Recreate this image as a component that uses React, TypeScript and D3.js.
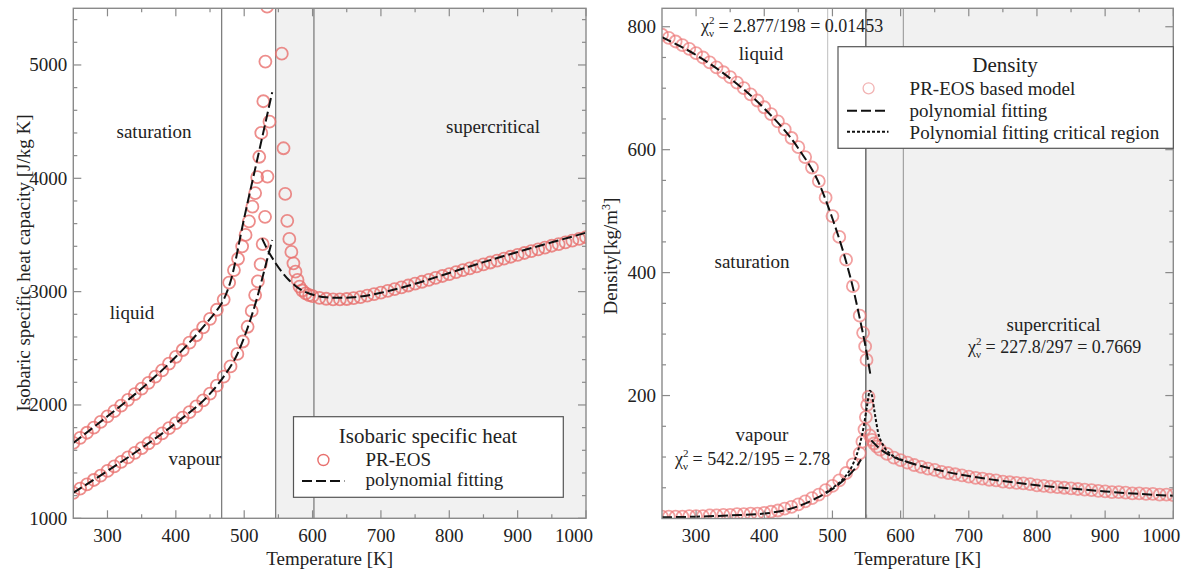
import React from 'react';
import * as d3 from 'd3';

const FONT = "'Liberation Serif', 'Times New Roman', serif";

// ---------- Left panel: isobaric specific heat (J/kg K) ----------
const cpLiquidT = [250,260,270,280,290,300,310,320,330,340,350,360,370,380,390,400,410,420,430,440,450,460,470,478,485,491,497,502,507,512,516,519,522,525,528,531,533.5];
const cpLiquidV = [1665,1710,1755,1800,1850,1900,1945,1995,2045,2095,2145,2195,2250,2305,2365,2425,2485,2550,2615,2685,2760,2840,2930,3080,3190,3290,3400,3500,3620,3750,3870,4010,4190,4400,4680,5030,5515];

const cpVapourT = [250,260,270,280,290,300,310,320,330,340,350,360,370,380,390,400,410,420,430,440,450,460,470,480,490,498,505,511,516,520,524,527,530.5,534,537];
const cpVapourV = [1225,1262,1300,1338,1377,1418,1458,1498,1538,1578,1620,1662,1705,1750,1795,1840,1888,1937,1988,2040,2100,2170,2250,2340,2450,2560,2690,2830,2970,3090,3240,3420,3660,4015,4500];

const cpSuperT = [555,557.5,560,563,566,569,572,575,578,581,585,590,595,600,610,620,630,640,650,660,670,680,690,700,710,720,730,740,750,760,770,780,790,800,810,820,830,840,850,860,870,880,890,900,910,920,930,940,950,960,970,980,990,1000];
const cpSuperV = [5100,4265,3862,3625,3465,3350,3250,3176,3103,3044,3010,2985,2970,2960,2945,2937,2932,2932,2935,2942,2952,2964,2978,2992,3007,3022,3038,3054,3070,3087,3104,3121,3138,3155,3172,3189,3206,3223,3240,3257,3274,3291,3308,3325,3341,3357,3373,3389,3405,3420,3435,3450,3465,3480];

const cpFitLiquidT = [250,300,350,400,450,460,470,480,500,520,541];
const cpFitLiquidV = [1665,1900,2145,2425,2760,2835,2930,3090,3650,4190,4760];
const cpFitVapourT = [250,300,350,400,450,470,490,505,518,530,541];
const cpFitVapourV = [1225,1418,1620,1840,2100,2250,2450,2680,2927,3200,3456];
const cpFitSuperT = [526,535,545,555,565,575,590,605,620,640,660,700,750,800,850,900,950,1000];
const cpFitSuperV = [3470,3360,3260,3175,3105,3050,2995,2965,2950,2945,2950,2990,3070,3165,3260,3350,3435,3520];

// ---------- Right panel: density (kg/m3) ----------
const rhoLiquidT = [250,260,270,280,290,300,310,320,330,340,350,360,370,380,390,400,410,420,430,440,450,460,470,480,490,500,510,520,530,540,545,548,550];
const rhoLiquidV = [787,782,776,770,764,757,750,742,734,726,718,709,700,690,680,669,658,646,633,619,604,588,571,549,522,492,458,421,378,330,302,280,258];

const rhoVapourT = [250,260,270,280,290,300,310,320,330,340,350,360,370,380,390,400,410,420,430,440,450,460,470,480,490,500,510,520,530,540,544,547,549,551,553];
const rhoVapourV = [3,3,3,3,4,4,4,5,5,6,6,7,7,8,8,9,11,13,16,19,23,28,33,39,46,53,62,74,88,106,125,145,165,185,198];

const rhoSuperT = [555,558,561,565,570,580,590,600,610,620,630,640,650,660,670,680,690,700,710,720,730,740,750,760,770,780,790,800,810,820,830,840,850,860,870,880,890,900,910,920,930,940,950,960,970,980,990,1000];
const rhoSuperV = [135,128,122,117,112,105,99,95,91,87,84,81,79,76,74,72,70,68,66,65,63,62,60,59,58,57,56,54,53,52,51,50,49,48,47,46,45,44,43,43,42,41,41,40,40,39,39,38];

const rhoFitLiquidT = [250,300,350,400,450,480,500,520,530,540,548,556];
const rhoFitLiquidV = [783,754,716,667,602,546,488,418,376,326,283,232];
const rhoFitVapourT = [250,300,350,400,450,480,500,520,535,542];
const rhoFitVapourV = [2,3,5,8,20,35,48,66,84,96];
const rhoFitCritT = [490,500,510,520,530,540,546,551,555,558,562,567,575,585,600,610];
const rhoFitCritV = [42,50,58,70,88,120,150,185,208,200,172,140,118,105,96,92];
const rhoFitSuperT = [557,570,590,610,650,700,750,800,850,900,950,1000];
const rhoFitSuperV = [127,113,100,92,80,69,61,54,49,44,40,37];

// ---------- ticks / boundaries ----------
const tempTicks = [300,400,500,600,700,800,900,1000];
const tempMinor = [350,450,550,650,750,850,950];
const cpTicks = [1000,2000,3000,4000,5000];
const cpMinor = [1200,1400,1600,1800,2200,2400,2600,2800,3200,3400,3600,3800,4200,4400,4600,4800,5200,5400];
const rhoTicks = [200,400,600,800];
const rhoMinor = [50,100,150,250,300,350,450,500,550,650,700,750];
const cpBounds = [467,546,602];
const rhoBounds = [493,549,604];

type P = [number, number];
const zip = (t: number[], v: number[]): P[] => t.map((d, i) => [d, v[i]] as P);

function Frame({ x, y, yMajor, yMinor, yLabelX, yLabelY, yLabel }: any) {
  const [x0, x1] = x.range();
  const [y0, y1] = y.range();
  const stroke = '#8a8a8a';
  return (
    <g>
      {tempTicks.map((t, i) => (
        <g key={'xt' + t}>
          <line x1={x(t)} x2={x(t)} y1={y0} y2={y0 - 8} stroke={stroke} strokeWidth={1.2} />
          <line x1={x(t)} x2={x(t)} y1={y1} y2={y1 + 8} stroke={stroke} strokeWidth={1.2} />
          <text x={x(t) - (i === tempTicks.length - 1 ? 12 : 0)} y={541.5} textAnchor="middle" fontSize={19} fontFamily={FONT} fill="#222">{t}</text>
        </g>
      ))}
      {tempMinor.map((t) => (
        <g key={'xm' + t}>
          <line x1={x(t)} x2={x(t)} y1={y0} y2={y0 - 4} stroke={stroke} strokeWidth={1.2} />
          <line x1={x(t)} x2={x(t)} y1={y1} y2={y1 + 4} stroke={stroke} strokeWidth={1.2} />
        </g>
      ))}
      {yMajor.map((v: number) => (
        <g key={'yt' + v}>
          <line x1={x0} x2={x0 + 8} y1={y(v)} y2={y(v)} stroke={stroke} strokeWidth={1.2} />
          <line x1={x1} x2={x1 - 8} y1={y(v)} y2={y(v)} stroke={stroke} strokeWidth={1.2} />
          <text x={x0 - 6} y={y(v)} dy="0.33em" textAnchor="end" fontSize={19} fontFamily={FONT} fill="#222">{v}</text>
        </g>
      ))}
      {yMinor.map((v: number) => (
        <g key={'ym' + v}>
          <line x1={x0} x2={x0 + 4} y1={y(v)} y2={y(v)} stroke={stroke} strokeWidth={1.2} />
          <line x1={x1} x2={x1 - 4} y1={y(v)} y2={y(v)} stroke={stroke} strokeWidth={1.2} />
        </g>
      ))}
      <rect x={x0} y={y1} width={x1 - x0} height={y0 - y1} fill="none" stroke={stroke} strokeWidth={1.4} />
      <text x={(x0 + x1) / 2} y={565} textAnchor="middle" fontSize={19} fontFamily={FONT} fill="#222">Temperature [K]</text>
      <text transform={`translate(${yLabelX},${yLabelY}) rotate(-90)`} textAnchor="middle" fontSize={19} fontFamily={FONT} fill="#222">{yLabel}</text>
    </g>
  );
}

function Chi({ x, y, rest }: { x: number; y: number; rest: string }) {
  return (
    <text x={x} y={y} fontSize={18} fontFamily={FONT} fill="#222">
      χ
      <tspan fontSize={11} dx={0} dy={-8}>2</tspan>
      <tspan fontSize={11} dx={-5.5} dy={13}>ν</tspan>
      <tspan fontSize={18} dy={-5}>{rest}</tspan>
    </text>
  );
}

export default function App() {
  const xL = d3.scaleLinear().domain([250, 1000]).range([73.3, 586]);
  const yL = d3.scaleLinear().domain([1000, 5500]).range([518.3, 8.3]);
  const xR = d3.scaleLinear().domain([250, 1000]).range([662, 1173.3]);
  const yR = d3.scaleLinear().domain([0, 830]).range([518.5, 8.3]);

  const lineL = d3.line<P>().x((d) => xL(d[0])).y((d) => yL(d[1])).curve(d3.curveMonotoneX);
  const lineR = d3.line<P>().x((d) => xR(d[0])).y((d) => yR(d[1])).curve(d3.curveMonotoneX);

  const circL = '#e8706e';
  const circR = '#ec7878';

  const leftPts = [...zip(cpLiquidT, cpLiquidV), ...zip(cpVapourT, cpVapourV), ...zip(cpSuperT, cpSuperV)];
  const rightPts = [...zip(rhoLiquidT, rhoLiquidV), ...zip(rhoVapourT, rhoVapourV), ...zip(rhoSuperT, rhoSuperV)];

  const dash = '10 4';

  return (
    <svg width={1189} height={573} style={{ position: 'absolute', left: 0, top: 0, background: '#fff' }} fontFamily={FONT}>
      <defs>
        <clipPath id="clipL"><rect x={73.3} y={8.3} width={586 - 73.3} height={510} /></clipPath>
        <clipPath id="clipR"><rect x={662} y={8.3} width={1173.3 - 662} height={510.2} /></clipPath>
      </defs>

      {/* ---------------- LEFT PANEL ---------------- */}
      <rect x={xL(cpBounds[1])} y={8.3} width={586 - xL(cpBounds[1])} height={510} fill="#f1f1f1" />
      {cpBounds.map((b) => (
        <line key={'bl' + b} x1={xL(b)} x2={xL(b)} y1={8.3} y2={518.3} stroke="#7f7f7f" strokeWidth={1.3} />
      ))}
      <g clipPath="url(#clipL)">
        {leftPts.map((d, i) => (
          <circle key={'cl' + i} cx={xL(d[0])} cy={yL(d[1])} r={6} fill="none" stroke={circL} strokeWidth={1.8} strokeOpacity={0.8} />
        ))}
        <path d={lineL(zip(cpFitLiquidT, cpFitLiquidV)) || ''} fill="none" stroke="#111" strokeWidth={2} strokeDasharray={dash} />
        <path d={lineL(zip(cpFitVapourT, cpFitVapourV)) || ''} fill="none" stroke="#111" strokeWidth={2} strokeDasharray={dash} />
        <path d={lineL(zip(cpFitSuperT, cpFitSuperV)) || ''} fill="none" stroke="#111" strokeWidth={2} strokeDasharray={dash} />
      </g>
      <Frame x={xL} y={yL} yMajor={cpTicks} yMinor={cpMinor} yLabelX={30} yLabelY={263} yLabel="Isobaric specific heat capacity [J/kg K]" />

      <text x={154} y={138} textAnchor="middle" fontSize={19} fill="#222">saturation</text>
      <text x={493} y={133} textAnchor="middle" fontSize={19} fill="#222">supercritical</text>
      <text x={132} y={319} textAnchor="middle" fontSize={19} fill="#222">liquid</text>
      <text x={195} y={465} textAnchor="middle" fontSize={19} fill="#222">vapour</text>

      <g>
        <rect x={293.5} y={416.7} width={269.8} height={80.6} fill="#fff" stroke="#555" strokeWidth={1.2} />
        <text x={428} y={443} textAnchor="middle" fontSize={21} fill="#222">Isobaric specific heat</text>
        <circle cx={323.4} cy={460} r={5.5} fill="none" stroke={circL} strokeWidth={1.4} />
        <text x={365.5} y={466} fontSize={19} fill="#222">PR-EOS</text>
        <line x1={302} x2={344.4} y1={481} y2={481} stroke="#111" strokeWidth={2} strokeDasharray={dash} />
        <text x={365.5} y={486} fontSize={19} fill="#222">polynomial fitting</text>
      </g>

      {/* ---------------- RIGHT PANEL ---------------- */}
      <rect x={xR(rhoBounds[1])} y={8.3} width={1173.3 - xR(rhoBounds[1])} height={510.2} fill="#f1f1f1" />
      <line x1={xR(rhoBounds[0])} x2={xR(rhoBounds[0])} y1={8.3} y2={518.5} stroke="#c4c4c4" strokeWidth={1.1} />
      <line x1={xR(rhoBounds[1])} x2={xR(rhoBounds[1])} y1={8.3} y2={518.5} stroke="#555" strokeWidth={1.3} />
      <line x1={xR(rhoBounds[2])} x2={xR(rhoBounds[2])} y1={8.3} y2={518.5} stroke="#999" strokeWidth={1.1} />
      <g clipPath="url(#clipR)">
        {rightPts.map((d, i) => (
          <circle key={'cr' + i} cx={xR(d[0])} cy={yR(d[1])} r={6} fill="none" stroke={circR} strokeWidth={1.8} strokeOpacity={0.7} />
        ))}
        <path d={lineR(zip(rhoFitLiquidT, rhoFitLiquidV)) || ''} fill="none" stroke="#111" strokeWidth={2} strokeDasharray={dash} />
        <path d={lineR(zip(rhoFitVapourT, rhoFitVapourV)) || ''} fill="none" stroke="#111" strokeWidth={2} strokeDasharray={dash} />
        <path d={lineR(zip(rhoFitCritT, rhoFitCritV)) || ''} fill="none" stroke="#111" strokeWidth={2} strokeDasharray="3 2" />
        <path d={lineR(zip(rhoFitSuperT, rhoFitSuperV)) || ''} fill="none" stroke="#111" strokeWidth={2} strokeDasharray={dash} />
      </g>
      <Frame x={xR} y={yR} yMajor={rhoTicks} yMinor={rhoMinor} yLabelX={617} yLabelY={256} yLabel={<>Density[kg/m<tspan fontSize={12} dy={-7}>3</tspan><tspan dy={7}>]</tspan></>} />

      <Chi x={701} y={32} rest=" = 2.877/198 = 0.01453" />
      <text x={761} y={60} textAnchor="middle" fontSize={19} fill="#222">liquid</text>
      <text x={752} y={268} textAnchor="middle" fontSize={19} fill="#222">saturation</text>
      <text x={762} y={441} textAnchor="middle" fontSize={19} fill="#222">vapour</text>
      <Chi x={675} y={465} rest=" = 542.2/195 = 2.78" />
      <text x={1053.5} y={331} textAnchor="middle" fontSize={19} fill="#222">supercritical</text>
      <Chi x={968} y={353} rest=" = 227.8/297 = 0.7669" />

      <g>
        <rect x={838} y={46.7} width={1173.3 - 838} height={101.6} fill="#fff" stroke="#555" strokeWidth={1.2} />
        <text x={1005} y={72} textAnchor="middle" fontSize={21} fill="#222">Density</text>
        <circle cx={868.6} cy={88.3} r={5.5} fill="none" stroke="#f2b4b4" strokeWidth={1.3} />
        <text x={909.6} y={95} fontSize={19} fill="#222">PR-EOS based model</text>
        <line x1={847} x2={888.5} y1={110.7} y2={110.7} stroke="#111" strokeWidth={2} strokeDasharray={dash} />
        <text x={909.6} y={117} fontSize={19} fill="#222">polynomial fitting</text>
        <line x1={847} x2={888.5} y1={131.7} y2={131.7} stroke="#111" strokeWidth={2} strokeDasharray="3 2" />
        <text x={909.6} y={139} fontSize={19} fill="#222">Polynomial fitting critical region</text>
      </g>
    </svg>
  );
}
